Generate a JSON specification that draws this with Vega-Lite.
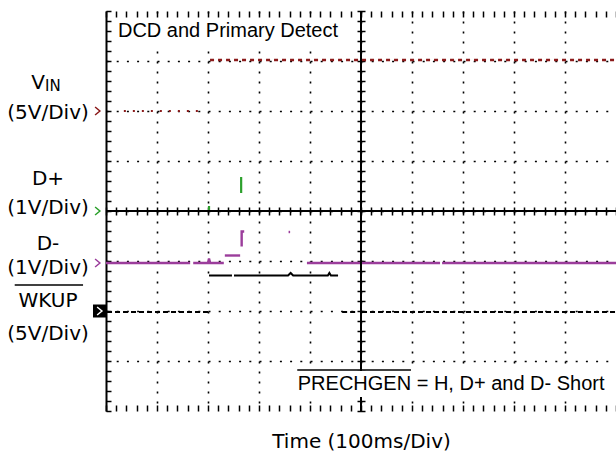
{
  "$schema": "https://vega.github.io/schema/vega-lite/v6.json",
  "width": 510,
  "height": 400,
  "autosize": {"type": "none"},
  "padding": {"left": 106, "top": 11, "right": 0, "bottom": 43},
  "background": "white",
  "config": {"view": {"stroke": null}},
  "datasets": {
    "traces": [
      {"ch": "VIN", "state": "low", "seg": "v1", "x": 0.35, "y": 2.0},
      {"ch": "VIN", "state": "low", "seg": "v1", "x": 1.85, "y": 2.0},
      {"ch": "VIN", "state": "high", "seg": "v2", "x": 2.04, "y": 3.02},
      {"ch": "VIN", "state": "high", "seg": "v2", "x": 10, "y": 3.02},
      {"ch": "D+", "state": "low", "seg": "p1", "x": 0, "y": 0},
      {"ch": "D+", "state": "low", "seg": "p1", "x": 10, "y": 0},
      {"ch": "D+", "state": "low", "seg": "p2", "x": 2.02, "y": 0},
      {"ch": "D+", "state": "low", "seg": "p2", "x": 2.02, "y": 0.1},
      {"ch": "D+", "state": "high", "seg": "p3", "x": 2.65, "y": 0.36},
      {"ch": "D+", "state": "high", "seg": "p3", "x": 2.65, "y": 0.68},
      {"ch": "D-", "state": "low", "seg": "m1", "x": 0, "y": -1.04},
      {"ch": "D-", "state": "low", "seg": "m1", "x": 1.65, "y": -1.04},
      {"ch": "D-", "state": "low", "seg": "m2", "x": 1.71, "y": -1.04},
      {"ch": "D-", "state": "low", "seg": "m2", "x": 2.0, "y": -1.04},
      {"ch": "D-", "state": "low", "seg": "m2", "x": 2.02, "y": -0.95},
      {"ch": "D-", "state": "low", "seg": "m2", "x": 2.04, "y": -1.04},
      {"ch": "D-", "state": "low", "seg": "m2", "x": 2.31, "y": -1.04},
      {"ch": "D-", "state": "high", "seg": "m3", "x": 2.33, "y": -0.89},
      {"ch": "D-", "state": "high", "seg": "m3", "x": 2.63, "y": -0.89},
      {"ch": "D-", "state": "high", "seg": "m4", "x": 2.66, "y": -0.71},
      {"ch": "D-", "state": "high", "seg": "m4", "x": 2.66, "y": -0.41},
      {"ch": "D-", "state": "high", "seg": "m4", "x": 2.71, "y": -0.41},
      {"ch": "D-", "state": "high", "seg": "m5", "x": 3.58, "y": -0.42},
      {"ch": "D-", "state": "high", "seg": "m5", "x": 3.61, "y": -0.42},
      {"ch": "D-", "state": "low", "seg": "m6", "x": 3.94, "y": -1.04},
      {"ch": "D-", "state": "low", "seg": "m6", "x": 6.55, "y": -1.04},
      {"ch": "D-", "state": "low", "seg": "m7", "x": 6.59, "y": -1.04},
      {"ch": "D-", "state": "low", "seg": "m7", "x": 10, "y": -1.04},
      {"ch": "WKUP", "state": "low", "seg": "w1", "x": 0.02, "y": -2.02},
      {"ch": "WKUP", "state": "low", "seg": "w1", "x": 2.0, "y": -2.02},
      {"ch": "WKUP", "state": "high", "seg": "w2", "x": 2.02, "y": -1.29},
      {"ch": "WKUP", "state": "high", "seg": "w2", "x": 2.47, "y": -1.29},
      {"ch": "WKUP", "state": "high", "seg": "w3", "x": 2.51, "y": -1.29},
      {"ch": "WKUP", "state": "high", "seg": "w3", "x": 3.57, "y": -1.29},
      {"ch": "WKUP", "state": "high", "seg": "w3", "x": 3.62, "y": -1.24},
      {"ch": "WKUP", "state": "high", "seg": "w3", "x": 3.67, "y": -1.29},
      {"ch": "WKUP", "state": "high", "seg": "w3", "x": 4.35, "y": -1.29},
      {"ch": "WKUP", "state": "high", "seg": "w3", "x": 4.38, "y": -1.24},
      {"ch": "WKUP", "state": "high", "seg": "w3", "x": 4.41, "y": -1.29},
      {"ch": "WKUP", "state": "high", "seg": "w3", "x": 4.55, "y": -1.29},
      {"ch": "WKUP", "state": "low", "seg": "w4", "x": 4.63, "y": -2.02},
      {"ch": "WKUP", "state": "low", "seg": "w4", "x": 4.92, "y": -2.02},
      {"ch": "WKUP", "state": "low", "seg": "w5", "x": 5.02, "y": -2.02},
      {"ch": "WKUP", "state": "low", "seg": "w5", "x": 10, "y": -2.02}
    ],
    "markers": [
      {"ch": "VIN", "x": -0.167, "y": 2.0},
      {"ch": "D+", "x": -0.167, "y": 0},
      {"ch": "D-", "x": -0.167, "y": -1.04},
      {"ch": "WKUP", "x": -0.127, "y": -2.0}
    ],
    "boxes": [
      {"x": 0.12, "x2": 4.75, "y": 3.84, "y2": 3.32},
      {"x": 3.67, "x2": 9.82, "y": -3.2, "y2": -3.72}
    ],
    "overlines": [
      {"x": -1.79, "x2": -0.45, "y": -1.48},
      {"x": 3.75, "x2": 5.98, "y": -3.18}
    ],
    "labels": [
      {"role": "v", "text": "V", "x": -1.196, "y": 2.44},
      {"role": "sub", "text": "IN", "x": -1.196, "y": 2.4},
      {"role": "chan", "text": "(5V/Div)", "x": -1.137, "y": 1.84},
      {"role": "chan", "text": "D+", "x": -1.137, "y": 0.52},
      {"role": "chan", "text": "(1V/Div)", "x": -1.137, "y": -0.06},
      {"role": "chan", "text": "D-", "x": -1.137, "y": -0.78},
      {"role": "chan", "text": "(1V/Div)", "x": -1.137, "y": -1.26},
      {"role": "chan", "text": "WKUP", "x": -1.137, "y": -1.92},
      {"role": "chan", "text": "(5V/Div)", "x": -1.137, "y": -2.58},
      {"role": "note", "text": "DCD and Primary Detect", "x": 0.235, "y": 3.48},
      {"role": "note", "text": "PRECHGEN = H, D+ and D- Short", "x": 3.76, "y": -3.58}
    ]
  },
  "resolve": {"axis": {"x": "independent", "y": "independent"}},
  "layer": [
    {
      "data": {"name": "traces"},
      "transform": [{"filter": "datum.ch == 'VIN' && datum.state == 'low'"}],
      "mark": {"type": "line", "color": "#8b1a1a", "strokeWidth": 2.2, "strokeDash": [2, 7]},
      "encoding": {
        "x": {"field": "x", "type": "quantitative", "scale": {"domain": [0, 10], "nice": false, "zero": false},
          "axis": {"orient": "bottom", "values": [1, 2, 3, 4, 5, 6, 7, 8, 9], "grid": true, "gridDash": [2, 8], "gridWidth": 1.6, "gridColor": "#000000", "gridOpacity": 1, "ticks": false, "labels": false, "domain": false, "title": null}},
        "y": {"field": "y", "type": "quantitative", "scale": {"domain": [-4, 4], "nice": false, "zero": false},
          "axis": {"orient": "left", "values": [-3, -2, -1, 0, 1, 2, 3], "grid": true, "gridDash": [2, 8.2], "gridWidth": 1.6, "gridColor": "#000000", "gridOpacity": 1, "ticks": false, "labels": false, "domain": false, "title": null}},
        "detail": {"field": "seg"}
      }
    },
    {
      "data": {"name": "traces"},
      "transform": [{"filter": "datum.ch == 'VIN' && datum.state == 'high'"}],
      "mark": {"type": "line", "color": "#8b1a1a", "strokeWidth": 2.6, "strokeDash": [4, 4]},
      "encoding": {
        "x": {"field": "x", "type": "quantitative", "axis": null},
        "y": {"field": "y", "type": "quantitative", "axis": null},
        "detail": {"field": "seg"}
      }
    },
    {
      "data": {"name": "traces"},
      "transform": [{"filter": "datum.ch == 'D+'"}],
      "mark": {"type": "line", "color": "#2ca02c", "strokeWidth": 2.2},
      "encoding": {
        "x": {"field": "x", "type": "quantitative",
          "axis": {"orient": "bottom", "values": [0,0.2,0.4,0.6,0.8,1,1.2,1.4,1.6,1.8,2,2.2,2.4,2.6,2.8,3,3.2,3.4,3.6,3.8,4,4.2,4.4,4.6,4.8,5,5.2,5.4,5.6,5.8,6,6.2,6.4,6.6,6.8,7,7.2,7.4,7.6,7.8,8,8.2,8.4,8.6,8.8,9,9.2,9.4,9.6,9.8,10], "ticks": true, "tickSize": -6, "tickWidth": 1.5, "tickColor": "#000000", "labels": false, "domain": false, "grid": false,
            "title": "Time (100ms/Div)", "titleFont": "DejaVu Sans", "titleFontSize": 20, "titleFontWeight": "normal", "titleColor": "#000000", "titlePadding": 20}},
        "y": {"field": "y", "type": "quantitative",
          "axis": {"orient": "left", "values": [-4,-3.8,-3.6,-3.4,-3.2,-3,-2.8,-2.6,-2.4,-2.2,-2,-1.8,-1.6,-1.4,-1.2,-1,-0.8,-0.6,-0.4,-0.2,0,0.2,0.4,0.6,0.8,1,1.2,1.4,1.6,1.8,2,2.2,2.4,2.6,2.8,3,3.2,3.4,3.6,3.8,4], "ticks": true, "tickSize": -5, "tickWidth": 1.5, "tickColor": "#000000", "labels": false, "domain": true, "domainWidth": 2, "domainColor": "#000000", "grid": false, "title": null}},
        "detail": {"field": "seg"}
      }
    },
    {
      "data": {"name": "traces"},
      "transform": [{"filter": "datum.ch == 'D-'"}],
      "mark": {"type": "line", "color": "#9b3d9b", "strokeWidth": 2.4},
      "encoding": {
        "x": {"field": "x", "type": "quantitative",
          "axis": {"orient": "top", "values": [0,0.2,0.4,0.6,0.8,1,1.2,1.4,1.6,1.8,2,2.2,2.4,2.6,2.8,3,3.2,3.4,3.6,3.8,4,4.2,4.4,4.6,4.8,5,5.2,5.4,5.6,5.8,6,6.2,6.4,6.6,6.8,7,7.2,7.4,7.6,7.8,8,8.2,8.4,8.6,8.8,9,9.2,9.4,9.6,9.8,10], "ticks": true, "tickSize": -6, "tickWidth": 1.5, "tickColor": "#000000", "labels": false, "domain": false, "grid": false, "title": null}},
        "y": {"field": "y", "type": "quantitative",
          "axis": {"orient": "left", "offset": -251, "values": [-4,-3.8,-3.6,-3.4,-3.2,-3,-2.8,-2.6,-2.4,-2.2,-2,-1.8,-1.6,-1.4,-1.2,-1,-0.8,-0.6,-0.4,-0.2,0,0.2,0.4,0.6,0.8,1,1.2,1.4,1.6,1.8,2,2.2,2.4,2.6,2.8,3,3.2,3.4,3.6,3.8,4], "ticks": true, "tickSize": -8, "tickWidth": 1.5, "tickColor": "#000000", "labels": false, "domain": false, "grid": false, "title": null}},
        "detail": {"field": "seg"}
      }
    },
    {
      "data": {"name": "traces"},
      "transform": [{"filter": "datum.ch == 'WKUP' && datum.state == 'high'"}],
      "mark": {"type": "line", "color": "#000000", "strokeWidth": 2},
      "encoding": {
        "x": {"field": "x", "type": "quantitative",
          "axis": {"orient": "bottom", "offset": -196, "values": [0,0.2,0.4,0.6,0.8,1,1.2,1.4,1.6,1.8,2,2.2,2.4,2.6,2.8,3,3.2,3.4,3.6,3.8,4,4.2,4.4,4.6,4.8,5,5.2,5.4,5.6,5.8,6,6.2,6.4,6.6,6.8,7,7.2,7.4,7.6,7.8,8,8.2,8.4,8.6,8.8,9,9.2,9.4,9.6,9.8,10], "ticks": true, "tickSize": -8, "tickWidth": 1.5, "tickColor": "#000000", "labels": false, "domain": false, "grid": false, "title": null}},
        "y": {"field": "y", "type": "quantitative", "axis": null},
        "detail": {"field": "seg"}
      }
    },
    {
      "data": {"name": "traces"},
      "transform": [{"filter": "datum.ch == 'WKUP' && datum.state == 'low'"}],
      "mark": {"type": "line", "color": "#000000", "strokeWidth": 2, "strokeDash": [5, 3]},
      "encoding": {
        "x": {"field": "x", "type": "quantitative", "axis": null},
        "y": {"field": "y", "type": "quantitative", "axis": null},
        "detail": {"field": "seg"}
      }
    },
    {
      "data": {"values": [{}]},
      "mark": {"type": "rule", "color": "#000000", "strokeWidth": 2},
      "encoding": {"x": {"datum": 5, "type": "quantitative", "axis": null}}
    },
    {
      "data": {"values": [{}]},
      "mark": {"type": "rule", "color": "#000000", "strokeWidth": 2},
      "encoding": {"y": {"datum": 0, "type": "quantitative", "axis": null}}
    },
    {
      "data": {"name": "boxes"},
      "mark": {"type": "rect", "fill": "#ffffff", "stroke": null},
      "encoding": {
        "x": {"field": "x", "type": "quantitative", "axis": null},
        "x2": {"field": "x2"},
        "y": {"field": "y", "type": "quantitative", "axis": null},
        "y2": {"field": "y2"}
      }
    },
    {
      "data": {"name": "overlines"},
      "mark": {"type": "rule", "color": "#000000", "strokeWidth": 1.6},
      "encoding": {
        "x": {"field": "x", "type": "quantitative", "axis": null},
        "x2": {"field": "x2"},
        "y": {"field": "y", "type": "quantitative", "axis": null}
      }
    },
    {
      "data": {"name": "markers"},
      "transform": [{"filter": "datum.ch == 'WKUP'"}],
      "mark": {"type": "point", "shape": "square", "filled": true, "color": "#000000", "size": 169, "opacity": 1},
      "encoding": {
        "x": {"field": "x", "type": "quantitative", "axis": null},
        "y": {"field": "y", "type": "quantitative", "axis": null}
      }
    },
    {
      "data": {"name": "markers"},
      "mark": {"type": "point", "shape": "M-0.6,-1L0.6,0L-0.6,1", "filled": false, "strokeWidth": 1.5, "size": 64, "opacity": 1},
      "encoding": {
        "x": {"field": "x", "type": "quantitative", "axis": null},
        "y": {"field": "y", "type": "quantitative", "axis": null},
        "color": {"field": "ch", "type": "nominal", "scale": {"domain": ["VIN", "D+", "D-", "WKUP"], "range": ["#8b1a1a", "#2ca02c", "#9b3d9b", "#ffffff"]}, "legend": null}
      }
    },
    {
      "data": {"name": "labels"},
      "transform": [{"filter": "datum.role == 'chan'"}],
      "mark": {"type": "text", "font": "DejaVu Sans", "fontSize": 20, "align": "center", "baseline": "alphabetic", "color": "#000000"},
      "encoding": {
        "x": {"field": "x", "type": "quantitative", "axis": null},
        "y": {"field": "y", "type": "quantitative", "axis": null},
        "text": {"field": "text"}
      }
    },
    {
      "data": {"name": "labels"},
      "transform": [{"filter": "datum.role == 'v'"}],
      "mark": {"type": "text", "font": "DejaVu Sans", "fontSize": 20, "align": "right", "baseline": "alphabetic", "color": "#000000"},
      "encoding": {
        "x": {"field": "x", "type": "quantitative", "axis": null},
        "y": {"field": "y", "type": "quantitative", "axis": null},
        "text": {"field": "text"}
      }
    },
    {
      "data": {"name": "labels"},
      "transform": [{"filter": "datum.role == 'sub'"}],
      "mark": {"type": "text", "font": "DejaVu Sans", "fontSize": 15, "align": "left", "baseline": "alphabetic", "color": "#000000"},
      "encoding": {
        "x": {"field": "x", "type": "quantitative", "axis": null},
        "y": {"field": "y", "type": "quantitative", "axis": null},
        "text": {"field": "text"}
      }
    },
    {
      "data": {"name": "labels"},
      "transform": [{"filter": "datum.role == 'note'"}],
      "mark": {"type": "text", "font": "Liberation Sans", "fontSize": 20, "align": "left", "baseline": "alphabetic", "color": "#000000"},
      "encoding": {
        "x": {"field": "x", "type": "quantitative", "axis": null},
        "y": {"field": "y", "type": "quantitative", "axis": null},
        "text": {"field": "text"}
      }
    }
  ]
}
